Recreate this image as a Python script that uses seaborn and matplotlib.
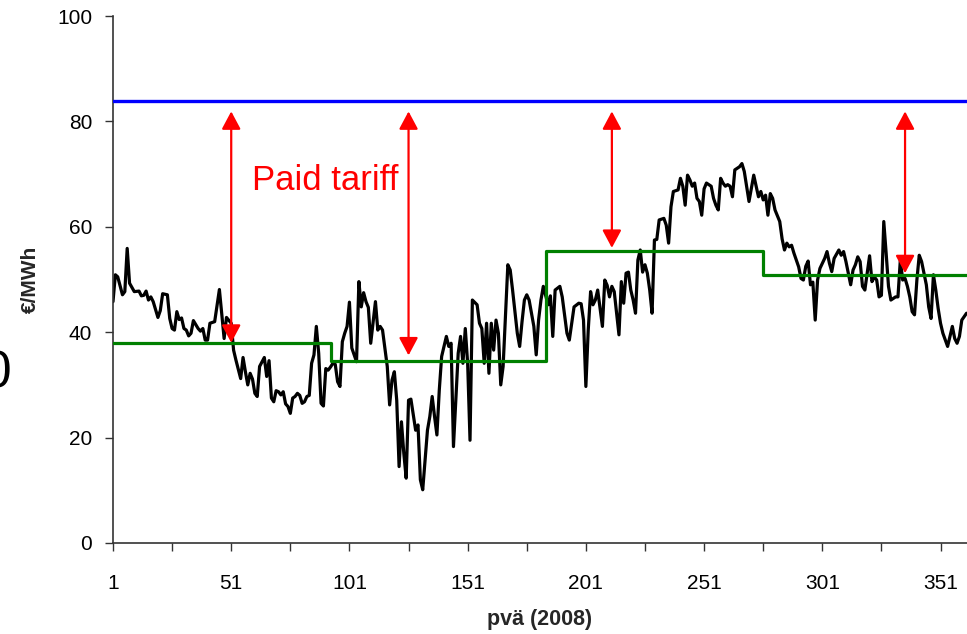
import matplotlib
matplotlib.use("Agg")
import matplotlib.pyplot as plt
import seaborn as sns
import pandas as pd

# ---- data ----
day = [1, 2, 3, 5, 6, 7, 8, 10, 12, 13, 14, 15, 16, 17, 18, 20, 21, 22, 24, 25,
       26, 27, 28, 29, 30, 31, 32, 33, 34, 35, 37, 38, 39, 40, 41, 42, 44, 46, 48, 49,
       51, 52, 53, 55, 56, 57, 58, 59, 60, 61, 62, 63, 65, 66, 67, 68, 69, 70, 71, 72,
       73, 74, 75, 76, 77, 78, 79, 80, 81, 82, 83, 84, 85, 86, 87, 88, 89, 90, 91, 92,
       93, 94, 95, 96, 97, 98, 99, 100, 101, 102, 104, 105, 106, 107, 108, 109, 110, 112, 113, 114,
       115, 117, 118, 119, 120, 121, 122, 123, 124, 125, 126, 127, 129, 130, 131, 132, 133, 134, 135, 136,
       137, 138, 139, 140, 142, 143, 144, 145, 147, 148, 149, 150, 151, 152, 153, 155, 156, 157, 158, 159,
       160, 161, 162, 163, 164, 165, 166, 168, 169, 170, 172, 173, 174, 175, 176, 177, 179, 180, 181, 182,
       183, 185, 186, 187, 188, 190, 191, 193, 194, 196, 198, 199, 200, 201, 202, 203, 204, 205, 206, 208,
       209, 210, 211, 212, 213, 214, 215, 216, 217, 218, 219, 220, 221, 222, 223, 224, 225, 226, 227, 228,
       229, 230, 231, 232, 234, 235, 236, 237, 238, 240, 241, 242, 243, 244, 245, 246, 247, 248, 249, 250,
       251, 252, 254, 255, 256, 257, 258, 259, 260, 261, 262, 263, 264, 266, 267, 268, 269, 270, 272, 273,
       274, 275, 276, 277, 278, 279, 280, 281, 283, 284, 285, 286, 287, 288, 289, 290, 291, 292, 293, 294,
       295, 296, 297, 298, 299, 300, 302, 303, 304, 305, 306, 308, 309, 310, 311, 313, 314, 315, 316, 317,
       318, 319, 320, 321, 322, 323, 324, 325, 326, 327, 328, 329, 330, 332, 333, 334, 335, 336, 337, 338,
       339, 340, 341, 342, 343, 345, 346, 347, 348, 349, 350, 351, 352, 354, 355, 356, 357, 358, 359, 360,
       362]
price = [45.8, 50.9, 50.5, 47.1, 47.7, 55.9, 49.3, 47.7, 47.8, 46.9, 47.0, 47.8, 46.1, 46.7, 45.8, 42.8, 44.1, 47.3, 47.1, 42.6,
         40.7, 40.4, 43.9, 42.4, 42.7, 40.7, 40.4, 39.3, 39.8, 42.2, 40.7, 40.2, 40.7, 38.5, 38.5, 41.7, 42.0, 48.1, 38.8, 42.8,
         41.7, 36.6, 34.7, 31.2, 35.2, 32.5, 30.0, 32.2, 31.1, 28.4, 27.8, 33.5, 35.2, 31.6, 34.6, 27.5, 26.8, 28.9, 28.7, 28.1,
         28.7, 26.4, 25.9, 24.6, 27.5, 27.8, 28.4, 28.0, 26.5, 26.8, 27.8, 28.0, 34.1, 35.7, 41.1, 36.0, 26.5, 26.0, 33.1, 32.8,
         33.4, 34.1, 33.9, 30.6, 29.7, 38.2, 39.8, 41.1, 45.7, 37.0, 34.4, 49.6, 44.8, 47.5, 45.8, 44.7, 37.9, 45.8, 40.4, 41.1,
         40.4, 33.5, 26.2, 30.9, 32.5, 27.1, 14.5, 23.0, 17.0, 12.3, 27.1, 27.3, 21.4, 22.4, 12.0, 10.1, 15.7, 21.4, 24.0, 27.8,
         24.0, 20.5, 29.0, 35.4, 39.2, 37.3, 37.9, 18.3, 36.0, 39.2, 34.1, 40.7, 34.1, 19.5, 46.1, 45.2, 41.7, 40.7, 34.1, 41.7,
         32.2, 41.7, 36.6, 42.3, 39.8, 30.0, 33.5, 52.8, 51.8, 48.0, 39.8, 37.3, 42.0, 46.1, 47.1, 46.1, 41.1, 35.7, 42.3, 46.1,
         48.7, 45.2, 46.9, 39.2, 48.0, 48.7, 46.7, 39.8, 38.5, 44.8, 45.5, 45.4, 42.3, 29.7, 40.4, 47.7, 45.2, 46.1, 48.0, 41.1,
         49.9, 48.9, 46.7, 48.7, 47.7, 43.6, 39.5, 49.6, 45.5, 51.2, 51.4, 48.0, 46.1, 43.6, 53.7, 55.6, 51.4, 52.8, 51.2, 48.0,
         43.6, 57.5, 57.6, 61.3, 61.6, 60.3, 56.9, 63.8, 66.7, 67.0, 69.2, 67.7, 64.1, 69.8, 68.9, 67.7, 68.3, 65.4, 64.8, 62.2,
         67.2, 68.3, 67.7, 65.4, 64.1, 63.2, 69.2, 68.3, 67.7, 68.0, 67.7, 65.7, 70.8, 71.4, 72.0, 70.5, 67.7, 64.8, 69.8, 67.7,
         65.7, 66.7, 65.1, 66.0, 62.2, 66.3, 65.4, 63.2, 61.0, 57.7, 55.6, 56.9, 56.2, 56.5, 55.0, 53.7, 52.4, 50.2, 49.9, 52.5,
         53.5, 49.0, 49.5, 42.3, 49.9, 52.1, 54.0, 55.3, 53.1, 51.5, 54.0, 55.6, 54.6, 55.3, 53.4, 49.0, 51.8, 52.8, 54.3, 53.4,
         48.7, 48.0, 51.2, 54.5, 49.6, 50.5, 49.9, 46.7, 47.0, 61.0, 55.0, 48.7, 46.1, 46.7, 46.7, 53.7, 49.9, 50.2, 48.7, 46.7,
         43.9, 43.3, 49.9, 54.6, 53.4, 49.0, 44.8, 42.6, 50.9, 48.0, 44.5, 41.7, 39.8, 37.3, 39.2, 41.1, 38.8, 37.9, 39.2, 42.3,
         43.6]

quarter_start = [1, 93, 184, 276]
quarter_avg = [38.0, 34.6, 55.5, 50.8]
year_end = 366

tariff = 83.8
arrow_days = [51, 126, 212, 336]
arrow_top = 81.9
arrow_bottom = [38.0, 35.6, 56.0, 51.2]

x_major = [1, 51, 101, 151, 201, 251, 301, 351]
x_minor = [26, 76, 126, 176, 226, 276, 326]
y_ticks = [0, 20, 40, 60, 80, 100]

# ---- plotting ----
sns.set_theme(style="ticks")
plt.rcParams["font.family"] = ["Liberation Sans", "DejaVu Sans"]

W, H = 967, 634
fig = plt.figure(figsize=(W / 100, H / 100), dpi=100)
ax = fig.add_axes([113 / W, 1 - 543 / H, 1 - 113 / W, (543 - 16) / H])

df = pd.DataFrame({"day": day, "price": price})
sns.lineplot(data=df, x="day", y="price", color="black", lw=2.3, ax=ax, zorder=2)

q_df = pd.DataFrame({"day": quarter_start + [year_end],
                     "avg": quarter_avg + [quarter_avg[-1]]})
sns.lineplot(data=q_df, x="day", y="avg", color="#008000", lw=2.3,
             drawstyle="steps-post", ax=ax, zorder=3)

ax.axhline(tariff, color="#0000FF", lw=2.4, zorder=3)

for d, b in zip(arrow_days, arrow_bottom):
    ax.annotate("", xy=(d, b), xytext=(d, arrow_top),
                arrowprops=dict(arrowstyle="<|-|>,head_length=0.9,head_width=0.48",
                                color="#FF0000", lw=1.6, shrinkA=0, shrinkB=0,
                                mutation_scale=12),
                zorder=4)

ax.text(59.7, 67.0, "Paid tariff", color="#FF0000", fontsize=25,
        ha="left", va="baseline")

fig.text(12 / W, 1 - 387 / H, "0", fontsize=37, ha="right", va="baseline",
         color="black")

ax.set_xlim(1, 362.2)
ax.set_ylim(0, 100)
ax.set_xticks(x_major)
ax.set_xticklabels([str(v) for v in x_major])
ax.set_xticks(x_minor, minor=True)
ax.set_yticks(y_ticks)

ax.tick_params(axis="x", which="both", direction="out", length=6, width=1,
               color="#333333", pad=16, labelsize=15, labelcolor="black")
ax.tick_params(axis="y", direction="out", length=6, width=1,
               color="#333333", pad=9, labelsize=15, labelcolor="black")

for s in ["top", "right"]:
    ax.spines[s].set_visible(False)
for s in ["left", "bottom"]:
    ax.spines[s].set_color("#333333")
    ax.spines[s].set_linewidth(1.2)

ax.set_xlabel("pvä (2008)", fontsize=15.5, fontweight="bold", labelpad=12)
ax.set_ylabel("€/MWh", fontsize=15, fontweight="bold", labelpad=12)
ax.grid(False)

fig.savefig("out.png", dpi=100, facecolor="white")
